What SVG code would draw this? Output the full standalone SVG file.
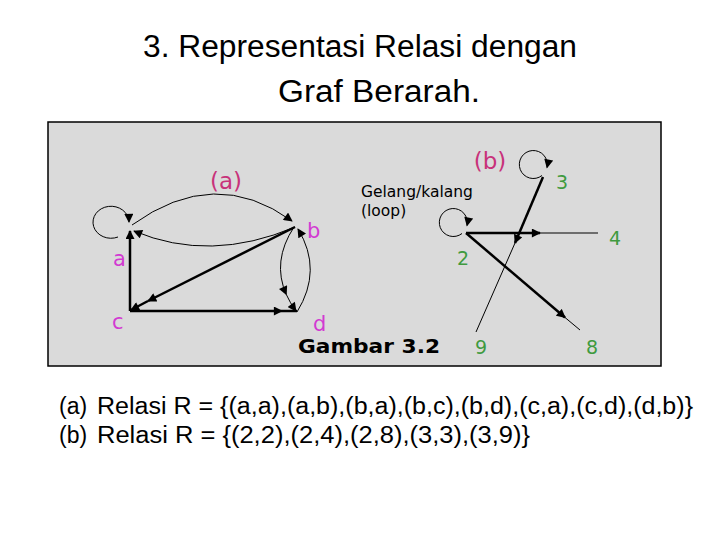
<svg xmlns="http://www.w3.org/2000/svg" width="720" height="540" viewBox="0 0 720 540">
<style>
.title{font-family:"Liberation Sans",Arial,sans-serif;font-size:31px;fill:#000}
.rel{font-family:"Liberation Sans",Arial,sans-serif;font-size:23px;fill:#000}
.node{font-family:"DejaVu Sans",Verdana,sans-serif;font-size:21px;fill:#d23ad2}
.cap{font-family:"DejaVu Sans",Verdana,sans-serif;font-size:23px;fill:#c8327a}
.num{font-family:"DejaVu Sans",Verdana,sans-serif;font-size:19px;fill:#3f9a3f}
.note{font-family:"DejaVu Sans",Verdana,sans-serif;font-size:15.5px;fill:#000}
.fig{font-family:"DejaVu Sans",Verdana,sans-serif;font-size:20px;font-weight:bold;fill:#000}
.thin{fill:none;stroke:#000;stroke-width:1}
.thick{fill:none;stroke:#000;stroke-width:2.5}
</style>
<defs>
<marker id="ah" viewBox="0 0 10 10" refX="9" refY="5" markerWidth="10" markerHeight="9" markerUnits="userSpaceOnUse" orient="auto">
<path d="M0,0 L10,5 L0,10 z" fill="#000"/>
</marker>
</defs>
<rect width="720" height="540" fill="#fff"/>
<g id="title">
<text class="title" x="360" y="57" text-anchor="middle" textLength="434" lengthAdjust="spacingAndGlyphs">3. Representasi Relasi dengan</text>
<text class="title" x="379" y="102" text-anchor="middle" textLength="202" lengthAdjust="spacingAndGlyphs">Graf Berarah.</text>
</g>
<rect id="panel" x="48" y="122" width="613" height="244" fill="#dadada" stroke="#000" stroke-width="1.5"/>
<g id="connectors">
<!-- graph (a) -->
<path class="thin" d="M118,237 A18,16 0 1 1 129,222" marker-end="url(#ah)"/>
<path class="thin" d="M132,225 Q215,165 292,221" marker-end="url(#ah)"/>
<path class="thin" d="M295,227 Q210,263 134,231" marker-end="url(#ah)"/>
<line class="thick" x1="130" y1="311" x2="130" y2="231" marker-end="url(#ah)"/>
<line class="thick" x1="295" y1="227" x2="148" y2="301" marker-end="url(#ah)"/>
<line class="thick" x1="148" y1="301" x2="131" y2="310" marker-end="url(#ah)"/>
<line class="thick" x1="130" y1="311" x2="282" y2="311" marker-end="url(#ah)"/>
<line class="thick" x1="282" y1="311" x2="297" y2="311"/>
<path class="thin" d="M294,227 Q271.6,261.4 286.3,294.5" marker-end="url(#ah)"/>
<path class="thin" d="M286.3,294.5 Q290,302.8 296,311" marker-end="url(#ah)"/>
<path class="thin" d="M297,312 Q323,270 298,229" marker-end="url(#ah)"/>
<!-- graph (b) -->
<path class="thin" d="M542,175.5 A14,14 0 1 1 547,167.5" marker-end="url(#ah)"/>
<path class="thin" d="M462,233.5 A14,14 0 1 1 467,225.5" marker-end="url(#ah)"/>
<line class="thick" x1="543" y1="177" x2="515" y2="243" marker-end="url(#ah)"/>
<line class="thin" x1="515" y1="243" x2="476" y2="332"/>
<line class="thick" x1="466" y1="233" x2="540" y2="233" marker-end="url(#ah)"/>
<line class="thin" x1="540" y1="233" x2="598" y2="233"/>
<line class="thick" x1="466" y1="233" x2="565" y2="317.5" marker-end="url(#ah)"/>
<line class="thin" x1="565" y1="317.5" x2="580" y2="330"/>
</g>
<g id="node-a"><text class="node" x="113" y="266">a</text></g>
<g id="node-b"><text class="node" x="307" y="238">b</text></g>
<g id="node-c"><text class="node" x="112" y="329">c</text></g>
<g id="node-d"><text class="node" x="313" y="331">d</text></g>
<g id="label-a"><text class="cap" x="226" y="189" text-anchor="middle">(a)</text></g>
<g id="label-b"><text class="cap" x="490" y="169" text-anchor="middle">(b)</text></g>
<g id="node-2"><text class="num" x="463" y="265" text-anchor="middle">2</text></g>
<g id="node-3"><text class="num" x="562" y="189" text-anchor="middle">3</text></g>
<g id="node-4"><text class="num" x="615" y="245" text-anchor="middle">4</text></g>
<g id="node-8"><text class="num" x="592" y="354" text-anchor="middle">8</text></g>
<g id="node-9"><text class="num" x="481" y="354" text-anchor="middle">9</text></g>
<g id="note">
<text class="note" x="361" y="197">Gelang/kalang</text>
<text class="note" x="361" y="216">(loop)</text>
</g>
<g id="caption"><text class="fig" x="298" y="353" textLength="142" lengthAdjust="spacingAndGlyphs">Gambar 3.2</text></g>
<g id="relations">
<text class="rel" x="59" y="414">(a)</text>
<text class="rel" x="97" y="414" textLength="596" lengthAdjust="spacingAndGlyphs">Relasi R = {(a,a),(a,b),(b,a),(b,c),(b,d),(c,a),(c,d),(d,b)}</text>
<text class="rel" x="59" y="443">(b)</text>
<text class="rel" x="97" y="443" textLength="433" lengthAdjust="spacingAndGlyphs">Relasi R = {(2,2),(2,4),(2,8),(3,3),(3,9)}</text>
</g>
</svg>
